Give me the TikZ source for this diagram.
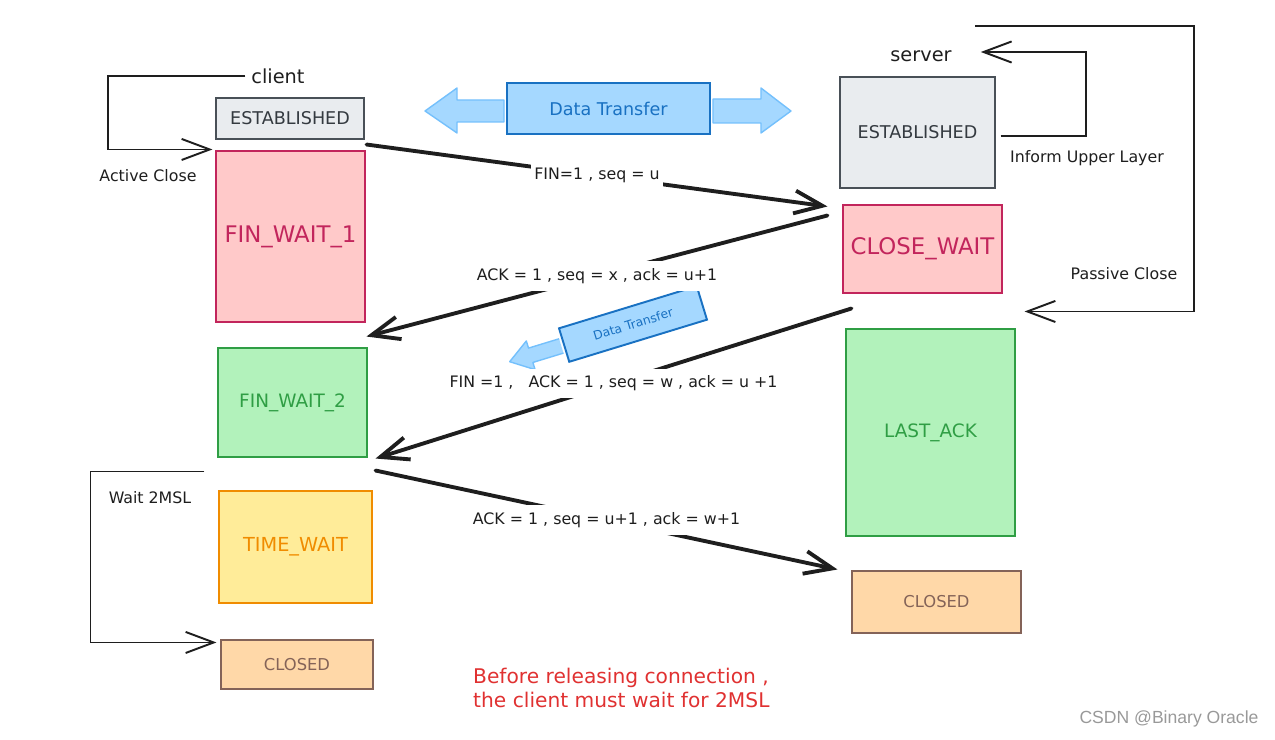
\documentclass[tikz,border=0pt]{standalone}
\usepackage{fontspec}
\setmainfont{DejaVu Sans}
\newfontfamily\wmfont{Liberation Sans}
\usetikzlibrary{arrows.meta}

\definecolor{ink}{HTML}{1E1E1E}
\definecolor{greyline}{HTML}{495057}
\definecolor{greytext}{HTML}{343A40}
\definecolor{greyfill}{HTML}{E9ECEF}
\definecolor{pinkline}{HTML}{C2255C}
\definecolor{pinkfill}{HTML}{FFC9C9}
\definecolor{greenline}{HTML}{2F9E44}
\definecolor{greenfill}{HTML}{B2F2BB}
\definecolor{yellowline}{HTML}{F08C00}
\definecolor{yellowfill}{HTML}{FFEC99}
\definecolor{brownline}{HTML}{846358}
\definecolor{orangefill}{HTML}{FFD8A8}
\definecolor{blueline}{HTML}{1971C2}
\definecolor{bluefill}{HTML}{A5D8FF}
\definecolor{lightblue}{HTML}{74C0FC}
\definecolor{notered}{HTML}{E03131}

\begin{document}
\begin{tikzpicture}[x=0.02cm, y=-0.02cm,
    sz/.style 2 args={minimum width=#1*0.02cm, minimum height=#2*0.02cm},
    state/.style={draw, line width=0.6pt, inner sep=0pt},
    greystate/.style={state, draw=greyline, fill=greyfill, text=greytext, font=\fontsize{10}{11}\selectfont},
    pinkstate/.style={state, draw=pinkline, fill=pinkfill, text=pinkline, font=\fontsize{13}{14}\selectfont},
    greenstate/.style={state, draw=greenline, fill=greenfill, text=greenline, font=\fontsize{10.5}{11}\selectfont},
    yellowstate/.style={state, draw=yellowline, fill=yellowfill, text=yellowline, font=\fontsize{11}{12}\selectfont},
    closedstate/.style={state, draw=brownline, fill=orangefill, text=brownline, font=\fontsize{9.3}{10}\selectfont},
    transfer/.style={draw=blueline, line width=1.1pt, fill=bluefill, text=blueline, inner sep=0pt},
    blockarrow/.style={draw=lightblue, line width=0.8pt, fill=bluefill, line join=round},
    msg/.style={draw=ink, line width=2.2pt, line cap=round, -{Straight Barb[length=16pt, width=13pt]}},
    loopline/.style={draw=ink, line width=1.1pt, -{Straight Barb[length=16pt, width=12pt]}},
    lbl/.style={fill=white, inner xsep=2pt, inner ysep=4pt, text=ink, font=\fontsize{9}{10}\selectfont},
    note/.style={text=ink, font=\fontsize{9}{10}\selectfont},
    side/.style={text=ink, font=\fontsize{11}{12}\selectfont}]
    \useasboundingbox (0,0) rectangle (1275,740);

    % client states
    \node[greystate, sz={148}{41}] (estC) at (290,118.5) {ESTABLISHED};
    \node[pinkstate, sz={149}{171}] (fw1) at (290.5,236.5) {FIN\_WAIT\_1};
    \node[greenstate, sz={149}{109}] (fw2) at (292.5,402.5) {FIN\_WAIT\_2};
    \node[yellowstate, sz={153}{112}] (tw) at (295.5,547) {TIME\_WAIT};
    \node[closedstate, sz={152}{49}] (clC) at (297,664.5) {CLOSED};

    % server states
    \node[greystate, sz={155}{111}] (estS) at (917.5,132.5) {ESTABLISHED};
    \node[pinkstate, sz={159}{88}] (cw) at (922.5,249) {CLOSE\_WAIT};
    \node[greenstate, sz={169}{207}] (la) at (930.5,432.5) {LAST\_ACK};
    \node[closedstate, sz={169}{62}] (clS) at (936.5,602) {CLOSED};

    \node[side] (client) at (278,76) {client};
    \node[side] (server) at (921,56) {server};

    % data transfer, both ways
    \node[transfer, sz={203}{51}, font=\fontsize{10}{11}\selectfont] (dt) at (608.5,108.5) {Data Transfer};
    \draw[blockarrow] ([shift={(-2,-8.5)}]dt.west) -- ++(-47,0) -- ++(0,-12) -- ++(-32,23) -- ++(32,22) -- ++(0,-11) -- ++(47,0) -- cycle;
    \draw[blockarrow] ([shift={(2,-9.5)}]dt.east) -- ++(48,0) -- ++(0,-11) -- ++(30,23) -- ++(-30,22) -- ++(0,-10) -- ++(-48,0) -- cycle;

    % data transfer, server to client only
    \node[transfer, sz={144}{35}, rotate=17, font=\fontsize{7}{8}\selectfont] (dt2) at (633,324) {Data Transfer};
    \begin{scope}[shift={(dt2.west)}, rotate=17]
        \draw[blockarrow] (-2,-7.5) -- (-34,-7.5) -- (-34,-15) -- (-56,0) -- (-34,15) -- (-34,7.5) -- (-2,7.5);
    \end{scope}

    % segments
    \draw[msg] ([shift={(2,5)}]estC.south east) -- node[lbl] {FIN=1 , seq = u} ([shift={(-15,2)}]cw.north west);
    \draw[msg] ([shift={(-15,11)}]cw.north west) -- node[lbl] {ACK = 1 , seq = x , ack = u+1} ([shift={(1,14)}]fw1.south east);
    \draw[msg] ([shift={(6,-20)}]la.north west) -- node[lbl] {FIN =1 ,~~ ACK = 1 , seq = w , ack = u +1} ([shift={(8,1)}]fw2.south east);
    \draw[msg] ([shift={(8,13)}]fw2.south east) -- node[lbl] {ACK = 1 , seq = u+1 , ack = w+1} ([shift={(-14,-1)}]clS.north west);

    % close loops
    \draw[loopline] (client.west) -- ++(-137,0) |- ([shift={(-3,-1)}]fw1.north west);
    \node[note] (active) at (148,176) {Active Close};
    \draw[loopline] ([shift={(5,3.5)}]estS.east) -- ++(85,0) |- ([shift={(23,-4)}]server.east);
    \node[note] (inform) at (1087,158) {Inform Upper Layer};
    \coordinate (pstart) at ([shift={(54,-30)}]server.center);
    \draw[loopline] (pstart) -- ++(219,0) |- ([shift={(9,-17)}]la.north east);
    \node[note] (passive) at (1124,274) {Passive Close};
    \coordinate (wstart) at ([shift={(-14,-19)}]tw.north west);
    \draw[loopline] (wstart) -- ++(-114,0) |- ([shift={(-4,3)}]clC.north west);
    \node[note] (wait) at (150,498) {Wait 2MSL};

    % remark
    \node[text=notered, font=\fontsize{11.5}{13.6}\selectfont, align=left, anchor=west] (remark) at (467,688)
        {Before releasing connection ,\\the client must wait for 2MSL};
    \node[text=black!40, font=\wmfont\fontsize{10}{12}\selectfont] (mark) at (1169,719) {CSDN @Binary Oracle};
\end{tikzpicture}
\end{document}
